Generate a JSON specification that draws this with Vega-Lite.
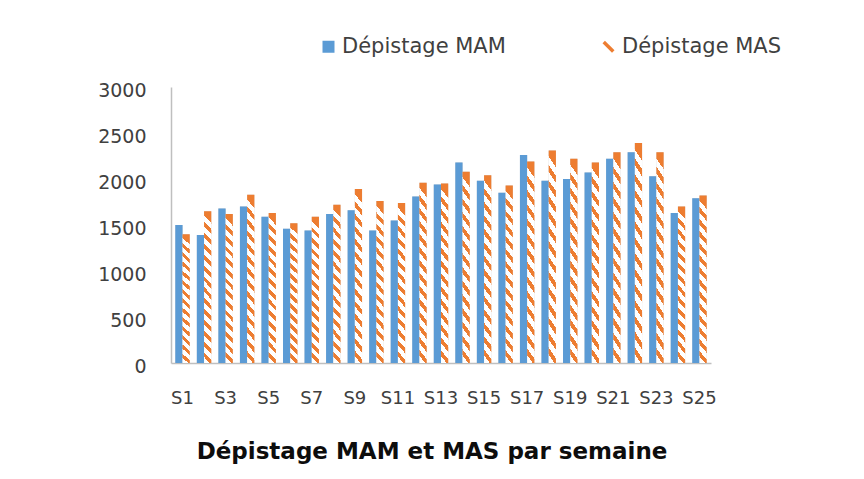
{
  "$schema": "https://vega.github.io/schema/vega-lite/v6.json",
  "autosize": {"type": "none"},
  "width": 540,
  "height": 276,
  "padding": {"left": 171, "top": 87, "right": 153, "bottom": 116},
  "background": "white",
  "config": {"view": {"stroke": null}, "font": "DejaVu Sans"},
  "title": {"text": "Dépistage MAM et MAS par semaine", "orient": "bottom", "anchor": "middle", "font": "DejaVu Sans", "fontSize": 23, "fontWeight": "bold", "color": "#0d0d0d", "offset": 34, "dx": -9},
  "data": {"values": [
    {"week": "S1", "series": "Dépistage MAM", "value": 1500},
    {"week": "S2", "series": "Dépistage MAM", "value": 1390},
    {"week": "S3", "series": "Dépistage MAM", "value": 1680},
    {"week": "S4", "series": "Dépistage MAM", "value": 1700},
    {"week": "S5", "series": "Dépistage MAM", "value": 1590},
    {"week": "S6", "series": "Dépistage MAM", "value": 1460},
    {"week": "S7", "series": "Dépistage MAM", "value": 1440},
    {"week": "S8", "series": "Dépistage MAM", "value": 1620},
    {"week": "S9", "series": "Dépistage MAM", "value": 1660},
    {"week": "S10", "series": "Dépistage MAM", "value": 1440},
    {"week": "S11", "series": "Dépistage MAM", "value": 1550},
    {"week": "S12", "series": "Dépistage MAM", "value": 1810},
    {"week": "S13", "series": "Dépistage MAM", "value": 1940},
    {"week": "S14", "series": "Dépistage MAM", "value": 2180},
    {"week": "S15", "series": "Dépistage MAM", "value": 1980},
    {"week": "S16", "series": "Dépistage MAM", "value": 1850},
    {"week": "S17", "series": "Dépistage MAM", "value": 2260},
    {"week": "S18", "series": "Dépistage MAM", "value": 1980},
    {"week": "S19", "series": "Dépistage MAM", "value": 2000},
    {"week": "S20", "series": "Dépistage MAM", "value": 2070},
    {"week": "S21", "series": "Dépistage MAM", "value": 2220},
    {"week": "S22", "series": "Dépistage MAM", "value": 2290},
    {"week": "S23", "series": "Dépistage MAM", "value": 2030},
    {"week": "S24", "series": "Dépistage MAM", "value": 1630},
    {"week": "S25", "series": "Dépistage MAM", "value": 1790},
    {"week": "S1", "series": "Dépistage MAS", "value": 1400},
    {"week": "S2", "series": "Dépistage MAS", "value": 1650},
    {"week": "S3", "series": "Dépistage MAS", "value": 1620},
    {"week": "S4", "series": "Dépistage MAS", "value": 1830},
    {"week": "S5", "series": "Dépistage MAS", "value": 1630},
    {"week": "S6", "series": "Dépistage MAS", "value": 1520},
    {"week": "S7", "series": "Dépistage MAS", "value": 1590},
    {"week": "S8", "series": "Dépistage MAS", "value": 1720},
    {"week": "S9", "series": "Dépistage MAS", "value": 1890},
    {"week": "S10", "series": "Dépistage MAS", "value": 1760},
    {"week": "S11", "series": "Dépistage MAS", "value": 1740},
    {"week": "S12", "series": "Dépistage MAS", "value": 1960},
    {"week": "S13", "series": "Dépistage MAS", "value": 1950},
    {"week": "S14", "series": "Dépistage MAS", "value": 2080},
    {"week": "S15", "series": "Dépistage MAS", "value": 2040},
    {"week": "S16", "series": "Dépistage MAS", "value": 1930},
    {"week": "S17", "series": "Dépistage MAS", "value": 2190},
    {"week": "S18", "series": "Dépistage MAS", "value": 2310},
    {"week": "S19", "series": "Dépistage MAS", "value": 2220},
    {"week": "S20", "series": "Dépistage MAS", "value": 2180},
    {"week": "S21", "series": "Dépistage MAS", "value": 2290},
    {"week": "S22", "series": "Dépistage MAS", "value": 2390},
    {"week": "S23", "series": "Dépistage MAS", "value": 2290},
    {"week": "S24", "series": "Dépistage MAS", "value": 1700},
    {"week": "S25", "series": "Dépistage MAS", "value": 1820}
  ]},
  "encoding": {
    "x": {"field": "week", "type": "nominal",
      "scale": {"domain": ["S1","S2","S3","S4","S5","S6","S7","S8","S9","S10","S11","S12","S13","S14","S15","S16","S17","S18","S19","S20","S21","S22","S23","S24","S25"], "paddingInner": 0.33, "paddingOuter": 0.2},
      "axis": {"title": null, "values": ["S1","S3","S5","S7","S9","S11","S13","S15","S17","S19","S21","S23","S25"], "labelAngle": 0, "ticks": false, "domainColor": "#bfbfbf", "domainWidth": 1.5, "labelFont": "DejaVu Sans", "labelFontSize": 18, "labelColor": "#404040", "labelPadding": 26}},
    "xOffset": {"field": "series", "type": "nominal", "scale": {"domain": ["Dépistage MAM", "Dépistage MAS"], "paddingInner": 0, "paddingOuter": 0}},
    "y": {"field": "value", "type": "quantitative",
      "scale": {"domain": [0, 3000], "nice": false},
      "axis": {"title": null, "format": "d", "values": [0, 500, 1000, 1500, 2000, 2500, 3000], "grid": false, "ticks": false, "domainColor": "#bfbfbf", "domainWidth": 1.5, "labelFont": "DejaVu Sans", "labelFontSize": 19, "labelColor": "#404040", "labelPadding": 25, "labelBaseline": "middle", "labelOffset": 3}}
  },
  "layer": [
    {
      "transform": [{"filter": "datum.series === 'Dépistage MAM'"}],
      "mark": {"type": "bar", "color": "#b0b0b0", "opacity": 0.6, "xOffset": 4},
      "encoding": {}
    },
    {
      "transform": [{"filter": "datum.series === 'Dépistage MAS'"}],
      "mark": {"type": "bar", "color": "#b0b0b0", "opacity": 0.6, "xOffset": 4},
      "encoding": {}
    },
    {
      "transform": [{"filter": "datum.series === 'Dépistage MAM'"}],
      "mark": {"type": "bar", "fill": "#5B9BD5"},
      "encoding": {}
    },
    {
      "transform": [{"filter": "datum.series === 'Dépistage MAS'"}],
      "mark": {"type": "bar", "fill": {"gradient": "linear", "x1": 0.05, "y1": 0, "x2": 0, "y2": 1, "stops": [
        {"offset": 0, "color": "#ED7D31"}, {"offset": 0.0321, "color": "#ED7D31"}, {"offset": 0.0321, "color": "#FFFFFF"}, {"offset": 0.0714, "color": "#FFFFFF"},
        {"offset": 0.0714, "color": "#ED7D31"}, {"offset": 0.1036, "color": "#ED7D31"}, {"offset": 0.1036, "color": "#FFFFFF"}, {"offset": 0.1429, "color": "#FFFFFF"},
        {"offset": 0.1429, "color": "#ED7D31"}, {"offset": 0.1750, "color": "#ED7D31"}, {"offset": 0.1750, "color": "#FFFFFF"}, {"offset": 0.2143, "color": "#FFFFFF"},
        {"offset": 0.2143, "color": "#ED7D31"}, {"offset": 0.2464, "color": "#ED7D31"}, {"offset": 0.2464, "color": "#FFFFFF"}, {"offset": 0.2857, "color": "#FFFFFF"},
        {"offset": 0.2857, "color": "#ED7D31"}, {"offset": 0.3179, "color": "#ED7D31"}, {"offset": 0.3179, "color": "#FFFFFF"}, {"offset": 0.3571, "color": "#FFFFFF"},
        {"offset": 0.3571, "color": "#ED7D31"}, {"offset": 0.3893, "color": "#ED7D31"}, {"offset": 0.3893, "color": "#FFFFFF"}, {"offset": 0.4286, "color": "#FFFFFF"},
        {"offset": 0.4286, "color": "#ED7D31"}, {"offset": 0.4607, "color": "#ED7D31"}, {"offset": 0.4607, "color": "#FFFFFF"}, {"offset": 0.5, "color": "#FFFFFF"},
        {"offset": 0.5, "color": "#ED7D31"}, {"offset": 0.5321, "color": "#ED7D31"}, {"offset": 0.5321, "color": "#FFFFFF"}, {"offset": 0.5714, "color": "#FFFFFF"},
        {"offset": 0.5714, "color": "#ED7D31"}, {"offset": 0.6036, "color": "#ED7D31"}, {"offset": 0.6036, "color": "#FFFFFF"}, {"offset": 0.6429, "color": "#FFFFFF"},
        {"offset": 0.6429, "color": "#ED7D31"}, {"offset": 0.6750, "color": "#ED7D31"}, {"offset": 0.6750, "color": "#FFFFFF"}, {"offset": 0.7143, "color": "#FFFFFF"},
        {"offset": 0.7143, "color": "#ED7D31"}, {"offset": 0.7464, "color": "#ED7D31"}, {"offset": 0.7464, "color": "#FFFFFF"}, {"offset": 0.7857, "color": "#FFFFFF"},
        {"offset": 0.7857, "color": "#ED7D31"}, {"offset": 0.8179, "color": "#ED7D31"}, {"offset": 0.8179, "color": "#FFFFFF"}, {"offset": 0.8571, "color": "#FFFFFF"},
        {"offset": 0.8571, "color": "#ED7D31"}, {"offset": 0.8893, "color": "#ED7D31"}, {"offset": 0.8893, "color": "#FFFFFF"}, {"offset": 0.9286, "color": "#FFFFFF"},
        {"offset": 0.9286, "color": "#ED7D31"}, {"offset": 0.9607, "color": "#ED7D31"}, {"offset": 0.9607, "color": "#FFFFFF"}, {"offset": 1, "color": "#FFFFFF"}
      ]}},
      "encoding": {}
    },
    {
      "mark": {"type": "point", "filled": true, "size": 0, "strokeWidth": 0, "opacity": 1},
      "encoding": {
        "color": {"field": "series", "type": "nominal", "scale": {"domain": ["Dépistage MAM", "Dépistage MAS"], "range": ["#5B9BD5", "#ED7D31"]},
          "legend": {"title": null, "orient": "none", "direction": "horizontal", "legendX": 147, "legendY": -51, "columns": 2, "columnPadding": 92, "symbolSize": 144, "symbolOpacity": 1, "symbolStrokeWidth": 0, "labelFont": "DejaVu Sans", "labelFontSize": 21, "labelColor": "#404040", "labelOffset": 3, "labelLimit": 300, "padding": 0}},
        "shape": {"field": "series", "type": "nominal", "scale": {"domain": ["Dépistage MAM", "Dépistage MAS"], "range": ["square", "M-0.59,-1L1,0.59L0.59,1L-1,-0.59Z"]}, "legend": {"title": null}}
      }
    }
  ]
}
